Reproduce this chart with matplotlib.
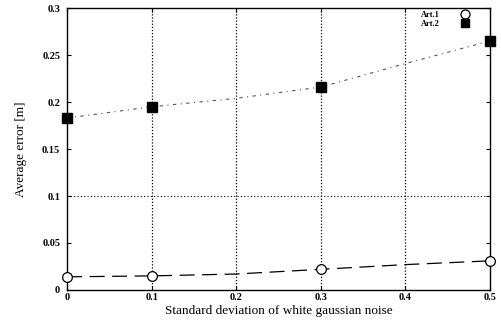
import matplotlib
matplotlib.use("Agg")
import matplotlib.pyplot as plt
from matplotlib.lines import Line2D

# noise levels where the curves are sampled
noise = [0.0, 0.1, 0.2, 0.3, 0.4, 0.5]
# Art.1 / Art.2 average error along the curves
art1_curve = [0.014, 0.015, 0.017, 0.022, 0.027, 0.031]
art2_curve = [0.183, 0.195, 0.204, 0.216, 0.241, 0.265]

# measured points (markers)
noise_pts = [0.0, 0.1, 0.3, 0.5]
art1_pts = [0.014, 0.015, 0.022, 0.031]
art2_pts = [0.183, 0.195, 0.216, 0.265]

xticks = [0, 0.1, 0.2, 0.3, 0.4, 0.5]
xticklabels = ['0', '0.1', '0.2', '0.3', '0.4', '0.5']
yticks = [0, 0.05, 0.1, 0.15, 0.2, 0.25, 0.3]
yticklabels = ['0', '0.05', '0.1', '0.15', '0.2', '0.25', '0.3']

plt.rcParams['font.family'] = ['Liberation Serif', 'DejaVu Serif']

fig = plt.figure(figsize=(5.01, 3.24), dpi=100)
ax = fig.add_axes([0.134, 0.105, 0.844, 0.870])

# grid: vertical at every x tick, horizontal only at 0.1
for xv in xticks[1:-1]:
    ax.axvline(xv, color='k', linestyle=(0, (1, 1.5)), linewidth=0.9, zorder=1)
ax.axhline(0.1, color='k', linestyle=(0, (1, 2)), linewidth=0.8, zorder=1)

# curves
ax.plot(noise, art1_curve, color='k', linewidth=0.9, linestyle=(0, (12, 6)), zorder=2)
ax.plot(noise, art2_curve, color='#555555', linewidth=0.8, linestyle=(0, (3, 4, 1, 4)), zorder=2)

# markers
ax.plot(noise_pts, art1_pts, linestyle='none', marker='o', markersize=7,
        markerfacecolor='white', markeredgecolor='k', markeredgewidth=0.9,
        clip_on=False, zorder=3)
ax.plot(noise_pts, art2_pts, linestyle='none', marker='s', markersize=7,
        color='k', clip_on=False, zorder=3)

ax.set_xlim(0, 0.5)
ax.set_ylim(0, 0.3)
ax.set_xticks(xticks)
ax.set_xticklabels(xticklabels, fontsize=7.5, fontweight='bold')
ax.set_yticks(yticks)
ax.set_yticklabels(yticklabels, fontsize=7.5, fontweight='bold')
ax.tick_params(axis='both', direction='in', length=3, width=0.8, top=True, right=True)
ax.tick_params(axis='x', pad=2)
ax.tick_params(axis='y', pad=5)

for s in ax.spines.values():
    s.set_linewidth(1.0)

ax.set_xlabel('Standard deviation of white gaussian noise', fontsize=9.5, labelpad=2)
ax.set_ylabel('Average error [m]', fontsize=9.5, labelpad=11)

# legend: text first, marker after
handles = [
    Line2D([], [], linestyle='none', marker='o', markersize=6.5,
           markerfacecolor='white', markeredgecolor='k', markeredgewidth=0.9),
    Line2D([], [], linestyle='none', marker='s', markersize=6, color='k'),
]
leg = ax.legend(handles, ['Art.1', 'Art.2'], loc='upper right',
                bbox_to_anchor=(0.965, 1.01), frameon=False, markerfirst=False,
                prop={'size': 6, 'weight': 'bold'}, handlelength=1.0,
                handletextpad=2.6, labelspacing=0.1, borderaxespad=0.3)

fig.savefig('out.png', dpi=100)
